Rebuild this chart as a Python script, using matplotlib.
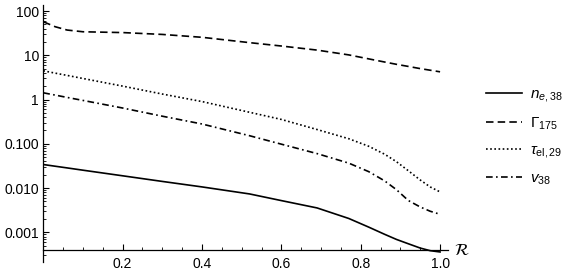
import matplotlib
matplotlib.use("Agg")
import matplotlib.pyplot as plt
from matplotlib.ticker import MultipleLocator, LogLocator, NullFormatter

plt.rcParams["font.family"] = ["Liberation Sans", "DejaVu Sans"]
plt.rcParams["mathtext.fontset"] = "custom"
plt.rcParams["mathtext.rm"] = "Liberation Sans"
plt.rcParams["mathtext.it"] = "Liberation Sans:italic"
plt.rcParams["mathtext.bf"] = "Liberation Sans:bold"

# radius (normalised)
r = [0.0, 0.03, 0.06, 0.1, 0.2, 0.3, 0.4, 0.52, 0.6, 0.69, 0.77,
     0.82, 0.86, 0.89, 0.92, 0.95, 0.975, 1.0]

n_e = [0.0340, 0.0311, 0.0285, 0.0253, 0.0189, 0.0141, 0.0106, 0.00735, 0.0052, 0.00355, 0.00205,
       0.00131, 0.000902, 0.00069, 0.00055, 0.00044, 0.000384, 0.000359]
gamma = [57.3, 44.2, 37.2, 34.0, 32.6, 29.6, 25.5, 19.3, 16.2, 13.1, 10.2,
         8.3, 7.05, 6.25, 5.6, 5.0, 4.6, 4.23]
tau = [4.46, 3.95, 3.51, 2.99, 2.01, 1.33, 0.9, 0.515, 0.355, 0.21, 0.13,
       0.088, 0.0583, 0.0394, 0.0246, 0.0152, 0.0106, 0.00817]
nu = [1.42, 1.26, 1.116, 0.955, 0.643, 0.42, 0.28, 0.152, 0.098, 0.060, 0.0365,
      0.0235, 0.01456, 0.00919, 0.00522, 0.00373, 0.00299, 0.00255]

labels = [r"$n_{e,38}$", r"$\Gamma_{175}$", r"$\tau_{\rm el,29}$", r"$v_{38}$"]

yticks = [1e-3, 1e-2, 1e-1, 1, 10, 100]
ytick_labels = ["0.001", "0.010", "0.100", "1", "10", "100"]
xticks = [0.2, 0.4, 0.6, 0.8, 1.0]
xtick_labels = ["0.2", "0.4", "0.6", "0.8", "1.0"]

fig = plt.figure(figsize=(5.71, 2.74), dpi=100)
ax = fig.add_axes([0.0758, 0.0438, 0.7088, 0.938])

lw = 1.2
ax.plot(r, n_e, color="black", lw=lw, ls="-", label=labels[0])
ax.plot(r, gamma, color="black", lw=lw, ls=(0, (4.5, 2.5)), label=labels[1])
ax.plot(r, tau, color="black", lw=lw, ls=(0, (1, 1.5)), label=labels[2])
ax.plot(r, nu, color="black", lw=lw, ls=(0, (4, 2, 1, 2)), label=labels[3])

ax.set_yscale("log")
ax.set_xlim(0, 1.02)
ax.set_ylim(2.13e-4, 137)

for s in ["top", "right"]:
    ax.spines[s].set_visible(False)
ax.spines["bottom"].set_position(("data", 3.92e-4))
ax.spines["left"].set_position(("data", 0))
for s in ["bottom", "left"]:
    ax.spines[s].set_linewidth(0.9)

ax.set_yticks(yticks)
ax.set_yticklabels(ytick_labels)
ax.yaxis.set_minor_locator(LogLocator(base=10, subs=range(2, 10)))
ax.yaxis.set_minor_formatter(NullFormatter())
ax.set_xticks(xticks)
ax.set_xticklabels(xtick_labels)
ax.xaxis.set_minor_locator(MultipleLocator(0.05))

ax.tick_params(which="major", direction="in", length=4, width=0.8, labelsize=10)
ax.tick_params(which="minor", direction="in", length=2, width=0.6)
ax.tick_params(axis="x", which="major", pad=5)
ax.tick_params(axis="y", which="major", pad=3)

# axis label: script R
ax.text(1.035, 3.92e-4, r"$\mathcal{R}$", fontsize=12, math_fontfamily="stix",
        va="center", ha="left")

ax.legend(loc="center left", bbox_to_anchor=(0.8275, 0.50), bbox_transform=fig.transFigure,
          frameon=False, fontsize=11, handlelength=2.35, handletextpad=0.5, labelspacing=0.75)

fig.savefig("out.png", dpi=100)
